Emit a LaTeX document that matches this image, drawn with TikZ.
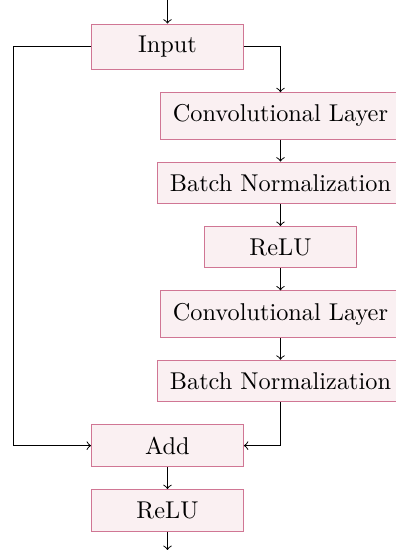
\documentclass[tikz,border=0pt]{standalone}
\usetikzlibrary{positioning}
\definecolor{boxline}{RGB}{208,118,148}
\definecolor{boxfill}{RGB}{250,240,242}
\begin{document}
\begin{tikzpicture}
\tikzstyle{block}=[rectangle, draw=boxline, fill=boxfill,
inner sep=5pt, minimum width=62.5pt, node distance=0.318cm]
\useasboundingbox (0,0) rectangle (162.55pt,-226.3pt);
\node[block] at (68.9pt,-19.3pt) (input) {Input};
\node[block,below=of input,xshift=46.5pt] (conv1) {Convolutional Layer};
\node[block,below=of conv1] (bn1) {Batch Normalization};
\node[block,below=of bn1] (relu1) {ReLU};
\node[block,below=of relu1] (conv2) {Convolutional Layer};
\node[block,below=of conv2] (bn2) {Batch Normalization};
\node[block,below=of bn2,xshift=-46.5pt] (add) {Add};
\node[block,below=of add] (relu2) {ReLU};

\coordinate (start) at (68.9pt,0);
\coordinate (stop) at (68.9pt,-226.3pt);
\coordinate (skip) at (5.35pt,0);

\draw[->] (start) -- (input) ;
\draw[->] (input.east) -| (conv1.north) ;
\path[->] (conv1) edge (bn1) ;
\path[->] (bn1) edge (relu1) ;
\path[->] (relu1) edge (conv2) ;
\path[->] (conv2) edge (bn2) ;
\draw[->] (bn2.south) |- (add.east) ;
\draw[->] (input.west) -- (input.west -| skip) |- (add.west) ;
\path[->] (add) edge (relu2) ;
\draw[->] (relu2) -- (stop) ;

\end{tikzpicture}
\end{document}
